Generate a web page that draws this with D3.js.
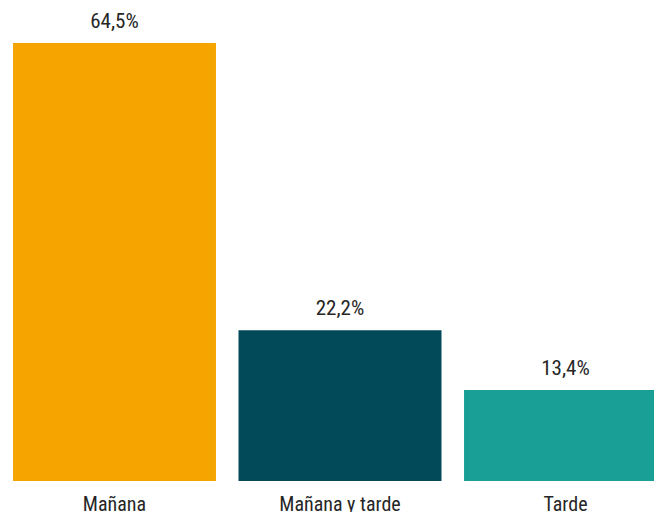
<!DOCTYPE html>
<html>
<head>
<meta charset="utf-8">
<script src="https://cdn.jsdelivr.net/npm/d3@7"></script>
<style>
  html, body { margin: 0; padding: 0; background: #fff; overflow: hidden; }
  text { font-family: "Liberation Sans Narrow", "Roboto Condensed", "Arial Narrow", sans-serif; fill: #262626; }
</style>
</head>
<body>
<svg id="chart"></svg>
<script>
var categories = ["Mañana", "Mañana y tarde", "Tarde"];
var values = [64.5, 22.2, 13.4];
var colors = ["#f5a400", "#024a59", "#1a9f97"];

var width = 654, height = 512;

var svg = d3.select("#chart")
    .attr("width", width)
    .attr("height", height);

// last bar runs past the right edge, as in the original
var x = d3.scaleBand()
    .domain(categories)
    .range([13, 667])
    .paddingInner(0.1)
    .paddingOuter(0);

var y = d3.scaleLinear()
    .domain([0, d3.max(values)])
    .range([481, 43]);

var data = categories.map(function (c, i) {
    return {cat: c, value: values[i], color: colors[i]};
});

svg.selectAll("rect.bar")
    .data(data)
    .enter().append("rect")
    .attr("class", "bar")
    .attr("x", function (d) { return x(d.cat); })
    .attr("y", function (d) { return y(d.value); })
    .attr("width", x.bandwidth())
    .attr("height", function (d) { return y(0) - y(d.value); })
    .style("fill", function (d) { return d.color; });

// value labels
svg.selectAll("text.val")
    .data(data)
    .enter().append("text")
    .attr("class", "val")
    .attr("x", function (d) { return x(d.cat) + x.bandwidth() / 2; })
    .attr("y", function (d) { return y(d.value) - 15; })
    .attr("text-anchor", "middle")
    .style("font-size", "21px")
    .text(function (d) { return d.value.toFixed(1).replace(".", ",") + "%"; });

// category labels
var xAxis = d3.axisBottom(x).tickSize(0).tickPadding(0);
var gx = svg.append("g")
    .attr("transform", "translate(0," + y(0) + ")")
    .call(xAxis);
gx.select(".domain").remove();
gx.selectAll("text")
    .attr("dy", null)
    .attr("y", 30)
    .style("font-size", "20px")
    .style("font-family", null)
    .attr("fill", null);
</script>
</body>
</html>
